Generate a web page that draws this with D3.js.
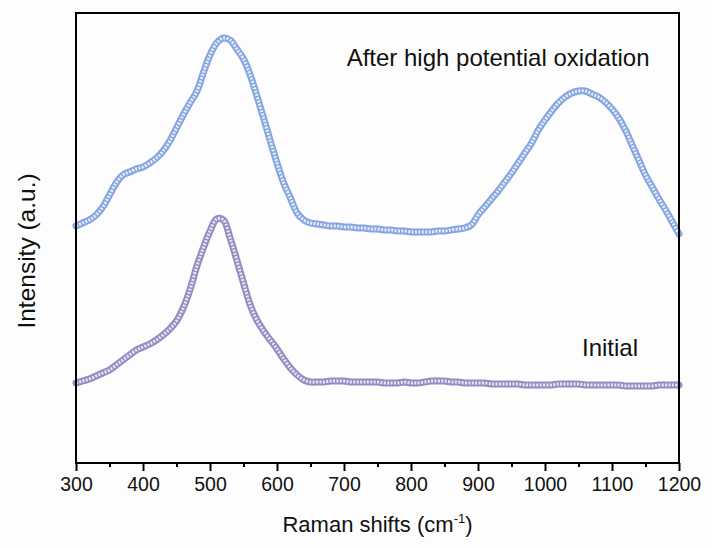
<!DOCTYPE html>
<html>
<head>
<meta charset="utf-8">
<script src="https://cdn.jsdelivr.net/npm/d3@7"></script>
<style>
  html, body { margin: 0; padding: 0; background: #fdfdfd; }
  svg { display: block; font-family: "Liberation Sans", Arial, sans-serif; }
</style>
</head>
<body>
<svg id="chart" width="712" height="548"></svg>
<script>
// Raman shift axis (cm^-1), sampled every 10 cm^-1
const shifts = d3.range(300, 1201, 10);

// Spectrum after high potential oxidation (offset upward, a.u.)
const oxidized = [
  237, 240, 243, 248, 256, 268, 280, 288, 291, 294,
  296, 300, 305, 312, 322, 335, 348, 360, 371, 390,
  408, 420, 425, 423, 414, 404, 388, 367, 345, 322,
  300, 280, 265, 250, 243, 240, 239, 238, 237, 237,
  236, 236, 235, 235, 234, 234, 233, 233, 232, 232,
  231, 231, 231, 231, 232, 232, 233, 234, 235, 238,
  248, 256, 264, 272, 281, 290, 300, 310, 320, 333,
  343, 352, 360, 366, 370, 372, 372, 369, 366, 361,
  354, 345, 333, 318, 303, 288, 276, 264, 253, 241,
  229
];

// Initial spectrum (a.u.)
const initial = [
  80, 82, 84, 87, 90, 93, 98, 103, 108, 113,
  116, 119, 123, 128, 134, 142, 155, 173, 196, 215,
  232, 244, 243, 225, 203, 180, 158, 143, 132, 123,
  114, 104, 95, 88, 83, 81, 81, 81, 82, 82,
  82, 81, 81, 81, 81, 81, 80, 80, 80, 81,
  80, 80, 81, 82, 82, 82, 81, 81, 80, 80,
  80, 80, 79, 79, 79, 79, 79, 78, 78, 78,
  78, 78, 79, 79, 79, 79, 78, 78, 78, 78,
  78, 78, 77, 77, 77, 77, 77, 78, 78, 78,
  78
];

const xTicks = [300, 400, 500, 600, 700, 800, 900, 1000, 1100, 1200];
const xMinorTicks = [350, 450, 550, 650, 750, 850, 950, 1050, 1150];

const seriesNames = ["After high potential oxidation", "Initial"];
const seriesColors = ["#86a6e0", "#928dc2"];

const margin = { left: 76, top: 13, right: 712 - 679, bottom: 548 - 463 };
const width = 712 - margin.left - margin.right;
const height = 548 - margin.top - margin.bottom;

const svg = d3.select("#chart");
const g = svg.append("g").attr("transform", `translate(${margin.left},${margin.top})`);

const x = d3.scaleLinear().domain([300, 1200]).range([0, width]);
const y = d3.scaleLinear().domain([0, 450]).range([height, 0]);

// Spectra: a coloured band with a speckled white core
const line = d3.line()
  .x((d, i) => x(shifts[i]))
  .y(d => y(d))
  .curve(d3.curveCatmullRom.alpha(0.5));

[oxidized, initial].forEach((vals, k) => {
  g.append("path")
    .datum(vals)
    .attr("d", line)
    .attr("fill", "none")
    .attr("stroke", seriesColors[k])
    .attr("stroke-width", 7)
    .attr("stroke-linejoin", "round")
    .attr("stroke-linecap", "round");
  g.append("path")
    .datum(vals)
    .attr("d", line)
    .attr("fill", "none")
    .attr("stroke", "#ffffff")
    .attr("stroke-opacity", 0.8)
    .attr("stroke-width", 3)
    .attr("stroke-dasharray", "2,1.4");
});

// Series labels
g.append("text")
  .attr("x", x(930))
  .attr("y", y(397))
  .attr("text-anchor", "middle")
  .attr("font-size", 24)
  .attr("fill", "#111")
  .text(seriesNames[0]);
g.append("text")
  .attr("x", x(1097))
  .attr("y", y(107))
  .attr("text-anchor", "middle")
  .attr("font-size", 24)
  .attr("fill", "#111")
  .text(seriesNames[1]);

// Frame
g.append("rect")
  .attr("x", 0).attr("y", 0)
  .attr("width", width).attr("height", height)
  .attr("fill", "none")
  .attr("stroke", "#000")
  .attr("stroke-width", 2);

// Bottom axis: major ticks with labels, minor ticks between
const xAxis = d3.axisBottom(x)
  .tickValues(xTicks)
  .tickSize(8)
  .tickPadding(6)
  .tickFormat(d3.format("d"));
const ax = g.append("g").attr("transform", `translate(0,${height})`).call(xAxis);
ax.select(".domain").remove();
ax.selectAll(".tick line").attr("stroke", "#000").attr("stroke-width", 2);
ax.selectAll(".tick text")
  .attr("font-size", 19.5)
  .attr("font-family", "Liberation Sans, Arial, sans-serif")
  .attr("fill", "#111");

const minor = g.append("g").attr("transform", `translate(0,${height})`)
  .call(d3.axisBottom(x).tickValues(xMinorTicks).tickSize(4).tickFormat(""));
minor.select(".domain").remove();
minor.selectAll(".tick line").attr("stroke", "#000").attr("stroke-width", 2);

// Axis titles
const xTitle = svg.append("text")
  .attr("x", margin.left + width / 2)
  .attr("y", 532)
  .attr("text-anchor", "middle")
  .attr("font-size", 22)
  .attr("fill", "#111");
xTitle.append("tspan").text("Raman shifts (cm");
xTitle.append("tspan").attr("font-size", 13).attr("dy", -9).text("-1");
xTitle.append("tspan").attr("dy", 9).text(")");

svg.append("text")
  .attr("transform", `translate(35,${251}) rotate(-90)`)
  .attr("text-anchor", "middle")
  .attr("font-size", 24.5)
  .attr("fill", "#111")
  .text("Intensity (a.u.)");
</script>
</body>
</html>
